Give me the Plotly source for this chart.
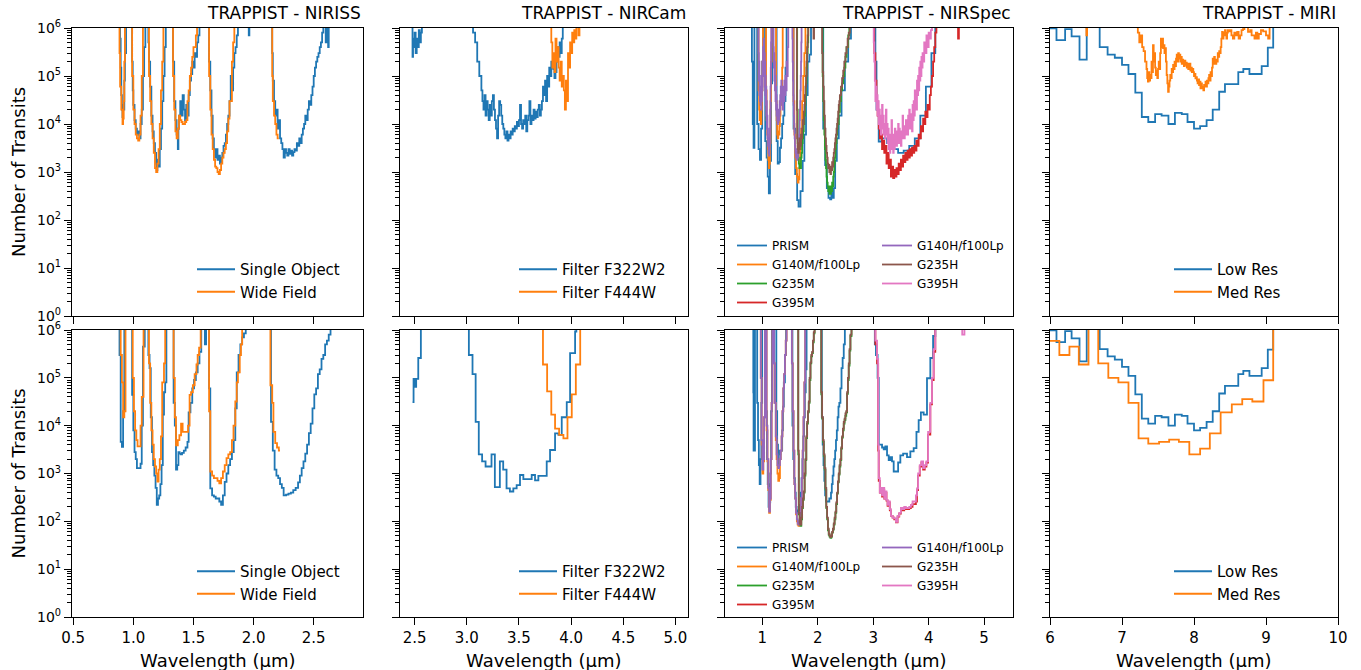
import plotly.graph_objects as go

# ----------------------------------------------------------------- DATA
# NIRISS, top row (native resolution)
niriss_top_so_x = [0.86, 0.89, 0.895, 0.90, 0.905, 0.91, 0.915, 0.92, 0.925, 0.93,
                   0.94, 0.985, 0.99, 0.995, 1.00, 1.01, 1.02, 1.03, 1.04, 1.05,
                   1.06, 1.07, 1.08, 1.09, 1.10, 1.12, 1.125, 1.13, 1.14, 1.15,
                   1.16, 1.17, 1.18, 1.19, 1.195, 1.20, 1.21, 1.22, 1.23, 1.24,
                   1.25, 1.26, 1.27, 1.325, 1.33, 1.34, 1.35, 1.36, 1.37, 1.375,
                   1.38, 1.39, 1.40, 1.41, 1.42, 1.43, 1.44, 1.45, 1.46, 1.47,
                   1.48, 1.49, 1.50, 1.51, 1.52, 1.53, 1.54, 1.55, 1.625, 1.63,
                   1.64, 1.65, 1.66, 1.67, 1.68, 1.69, 1.70, 1.71, 1.72, 1.73,
                   1.74, 1.75, 1.76, 1.77, 1.78, 1.79, 1.80, 1.81, 1.82, 1.83,
                   1.84, 1.85, 1.86, 1.87, 1.95, 1.96, 1.965, 2.15, 2.155, 2.16,
                   2.17, 2.18, 2.19, 2.20, 2.21, 2.22, 2.23, 2.24, 2.25, 2.26,
                   2.27, 2.28, 2.29, 2.30, 2.31, 2.32, 2.33, 2.34, 2.35, 2.36,
                   2.37, 2.38, 2.39, 2.40, 2.41, 2.42, 2.43, 2.44, 2.45, 2.46,
                   2.47, 2.48, 2.49, 2.50, 2.51, 2.52, 2.53, 2.54, 2.55, 2.56,
                   2.57, 2.58, 2.60, 2.605, 2.62, 2.625]
niriss_top_so_y = [3e6, 6e5, 1.5e5, 4e4, 2e4, 1.4e4, 2.5e4, 2e4, 8e4, 3e5,
                   3e6, 3e6, 2e5, 5e4, 2.5e4, 1.2e4, 8e3, 6e3, 7e3, 5e3,
                   1e4, 2e4, 1e5, 4e5, 3e6, 3e6, 5e5, 2e5, 6e4, 1.5e4,
                   7e3, 4e3, 2.5e3, 1.5e3, 1.1e3, 1.8e3, 1.3e3, 3e3, 8e3, 3e4,
                   1e5, 4e5, 3e6, 3e6, 2e5, 3e4, 1.2e4, 6e3, 3e3, 8e3,
                   1.5e4, 3e4, 1.5e4, 4e4, 2e4, 1.2e4, 2.5e4, 1.5e4, 4e4, 8e4,
                   1.1e5, 2e5, 1.5e5, 3e5, 2.5e5, 5e5, 7e5, 3e6, 3e6, 2e5,
                   5e4, 1.5e4, 5e3, 3e3, 2e3, 3e3, 1.8e3, 2.2e3, 1.5e3, 2e3,
                   2.5e3, 3.5e3, 4e3, 6e3, 1e4, 1.5e4, 3e4, 1e5, 5e4, 1.5e5,
                   3e5, 4e5, 7e5, 3e6, 3e6, 7e5, 3e6, 3e6, 3e5, 8e4,
                   3e4, 1.5e4, 2e4, 8e3, 1.2e4, 5e3, 4e3, 3e3, 2e3, 3e3,
                   2.5e3, 2.2e3, 3e3, 2.4e3, 2.8e3, 2.2e3, 2.6e3, 3e3, 2.8e3, 4e3,
                   3.5e3, 5e3, 4e3, 6e3, 8e3, 1e4, 1.5e4, 1.2e4, 2e4, 3e4,
                   2.5e4, 4e4, 6e4, 1e5, 1.5e5, 2e5, 2.5e5, 3e5, 4e5, 5e5,
                   8e5, 3e6, 5e5, 3e6, 4e5, 3e6]
niriss_top_wf_x = [0.88, 0.885, 0.89, 0.90, 0.91, 0.915, 0.92, 0.925, 0.93, 0.985,
                   0.99, 1.00, 1.01, 1.02, 1.03, 1.04, 1.05, 1.06, 1.07, 1.08,
                   1.12, 1.13, 1.14, 1.15, 1.16, 1.17, 1.18, 1.19, 1.20, 1.21,
                   1.22, 1.23, 1.24, 1.25, 1.32, 1.33, 1.34, 1.35, 1.36, 1.37,
                   1.38, 1.39, 1.40, 1.41, 1.42, 1.43, 1.44, 1.45, 1.46, 1.47,
                   1.48, 1.49, 1.50, 1.52, 1.53, 1.62, 1.63, 1.64, 1.65, 1.66,
                   1.67, 1.68, 1.69, 1.70, 1.71, 1.72, 1.73, 1.74, 1.75, 1.76,
                   1.77, 1.78, 1.79, 1.80, 1.81, 1.82, 1.83, 1.84, 2.15, 2.155,
                   2.16, 2.17, 2.18, 2.19, 2.20, 2.21]
niriss_top_wf_y = [3e6, 3e5, 6e4, 2e4, 1e4, 1.3e4, 3e4, 2e5, 3e6, 3e6,
                   1e5, 2e4, 1e4, 6e3, 5e3, 4.5e3, 6e3, 1.5e4, 1e5, 3e6,
                   3e6, 1e5, 3e4, 1e4, 5e3, 2.5e3, 1.2e3, 1e3, 1.5e3, 3e3,
                   1e4, 5e4, 2e5, 3e6, 3e6, 1e5, 2e4, 7e3, 5e3, 8e3,
                   1.5e4, 1.2e4, 1.1e4, 1e4, 1e4, 1.1e4, 1.2e4, 3e4, 5e4, 1e5,
                   1.5e5, 2.5e5, 4e5, 7e5, 3e6, 3e6, 1e5, 2e4, 6e3, 3e3,
                   1.8e3, 1.3e3, 1.2e3, 1e3, 9e2, 1.1e3, 1.5e3, 2e3, 2.5e3, 3e3,
                   4e3, 7e3, 1.3e4, 3e4, 3e4, 2e5, 5e5, 3e6, 3e6, 1e5,
                   3e4, 1.5e4, 1e4, 6e3, 5e3, 5e3]

# NIRISS, bottom row (binned)
niriss_bot_so_x = [0.875, 0.885, 0.895, 0.905, 0.915, 0.925,
                   0.985, 0.99, 1.00, 1.01, 1.02, 1.03, 1.045, 1.06, 1.07, 1.08, 1.095,
                   1.115, 1.125, 1.135, 1.145, 1.155, 1.165, 1.175, 1.185, 1.195, 1.205,
                   1.215, 1.225, 1.235, 1.245, 1.255, 1.265, 1.275,
                   1.325, 1.335, 1.345, 1.355, 1.365, 1.375, 1.385, 1.395, 1.405, 1.42,
                   1.435, 1.45, 1.46, 1.475, 1.49, 1.505, 1.52, 1.535, 1.55, 1.565,
                   1.595, 1.605,
                   1.62, 1.63, 1.64, 1.655, 1.67, 1.685, 1.70, 1.715, 1.73, 1.745,
                   1.76, 1.775, 1.79, 1.805, 1.82, 1.835, 1.848, 1.86, 1.875, 1.89,
                   1.905, 1.92, 1.935,
                   2.13, 2.145, 2.16, 2.175, 2.19, 2.205, 2.22, 2.235, 2.25, 2.27,
                   2.29, 2.31, 2.33, 2.35, 2.37, 2.385, 2.40, 2.415, 2.43, 2.445,
                   2.46, 2.475, 2.49, 2.505, 2.52, 2.535, 2.55, 2.565, 2.58, 2.595,
                   2.61, 2.625, 2.64]
niriss_bot_so_y = [3e6, 3e5, 4.6e3, 3.6e3, 2e4, 3e6,
                   3e6, 4.4e4, 8e3, 2.8e3, 2e3, 1.3e3, 1.3e3, 1.6e3, 1e4, 4.5e5, 3e6,
                   3e6, 3e5, 1.6e5, 1.5e4, 2.8e3, 1.5e3, 9e2, 5e2, 2.2e2, 3e2,
                   3.5e2, 6e2, 1.5e3, 1.7e4, 5e4, 8e4, 3e6,
                   3e6, 3e4, 1e4, 1.2e3, 1.5e3, 2.8e3, 2.6e3, 2.5e3, 2.7e3, 3e3,
                   3.5e3, 4.6e3, 1.9e4, 3e4, 6e4, 9e4, 1.3e5, 2e5, 3.5e5, 3e6,
                   5e5, 3e6,
                   3e6, 6e4, 4.9e2, 3.5e2, 3.3e2, 3e2, 3e2, 2.6e2, 2.2e2, 3.5e2,
                   6.7e2, 1e3, 1.5e3, 2e3, 2.8e3, 5e3, 2.3e4, 1.3e5, 3e5, 5e5,
                   7e5, 8.5e5, 3e6,
                   3e6, 1.2e4, 3e3, 1.2e3, 9e2, 8e2, 6e2, 5e2, 3.5e2, 3.6e2,
                   3.8e2, 4e2, 4.5e2, 5e2, 6.5e2, 9e2, 1.3e3, 1.8e3, 2.6e3, 4e3,
                   7e3, 1.1e4, 2.3e4, 4.5e4, 6e4, 1.2e5, 1.5e5, 2.5e5, 3e5, 5e5,
                   6e5, 8e5, 3e6]
niriss_bot_wf_x = [0.88, 0.895, 0.905, 0.915, 0.925, 0.935,
                   0.985, 0.995, 1.005, 1.015, 1.025, 1.035, 1.05, 1.06, 1.07, 1.085,
                   1.12, 1.13, 1.14, 1.15, 1.16, 1.17, 1.18, 1.19, 1.20, 1.21,
                   1.22, 1.23, 1.24, 1.255, 1.265,
                   1.325, 1.335, 1.345, 1.355, 1.37, 1.383, 1.397, 1.41, 1.425, 1.44,
                   1.455, 1.468, 1.48, 1.495, 1.51, 1.525, 1.535, 1.547, 1.56,
                   1.62, 1.63, 1.64, 1.655, 1.67, 1.685, 1.70, 1.715, 1.73, 1.745,
                   1.76, 1.775, 1.79, 1.805, 1.82, 1.833, 1.848, 1.86, 1.87, 1.885,
                   1.895, 1.905,
                   2.13, 2.14, 2.155, 2.165, 2.18, 2.195, 2.21, 2.22]
niriss_bot_wf_y = [3e6, 3e5, 8e4, 1.5e4, 2e4, 3e6,
                   3e6, 1e5, 2e4, 8e3, 5e3, 3.7e3, 3.7e3, 1e4, 4e4, 3e6,
                   3e6, 2e5, 3e4, 8e3, 4e3, 2e3, 1.4e3, 1e3, 6.8e2, 1.2e3,
                   2e3, 6e3, 8e4, 2e5, 3e6,
                   3e6, 1e5, 1.5e4, 3.9e3, 5e3, 6.3e3, 1.1e4, 7.4e3, 7.4e3, 7.4e3,
                   1e4, 4.4e4, 5e4, 7e4, 1.2e5, 1.9e5, 3e5, 4.3e5, 3e6,
                   3e6, 2e4, 1.1e3, 9e2, 8e2, 8e2, 7e2, 6.2e2, 8e2, 1.1e3,
                   1.5e3, 2.1e3, 2.5e3, 2.8e3, 5e3, 1e4, 3.2e4, 8e4, 1.3e5, 3e5,
                   5e5, 3e6,
                   3e6, 7e4, 3e4, 7.4e3, 4.3e3, 3.5e3, 3e3, 3e3]

# NIRCam
nircam_top_f322_x = [2.47, 2.48, 2.485, 2.49, 2.50, 2.51, 2.52, 2.53, 2.54, 2.55,
                     2.56, 2.57, 3.05, 3.06, 3.08, 3.10, 3.12, 3.14, 3.15, 3.16,
                     3.17, 3.18, 3.19, 3.20, 3.21, 3.22, 3.23, 3.24, 3.25, 3.26,
                     3.27, 3.28, 3.29, 3.30, 3.31, 3.32, 3.33, 3.34, 3.35, 3.36,
                     3.37, 3.38, 3.39, 3.40, 3.41, 3.42, 3.43, 3.44, 3.45, 3.46,
                     3.47, 3.48, 3.49, 3.50, 3.51, 3.52, 3.53, 3.54, 3.55, 3.56,
                     3.57, 3.58, 3.59, 3.60, 3.61, 3.62, 3.63, 3.64, 3.65, 3.66,
                     3.67, 3.68, 3.69, 3.70, 3.71, 3.72, 3.73, 3.74, 3.75, 3.76,
                     3.77, 3.78, 3.79, 3.80, 3.81, 3.82, 3.83, 3.84, 3.85, 3.86,
                     3.87, 3.88, 3.89, 3.90, 3.91, 3.92]
nircam_top_f322_y = [3e6, 2.5e5, 6e5, 4e5, 8e5, 3e5, 6e5, 4e5, 9e5, 5e5,
                     8e5, 3e6, 3e6, 8e5, 5e5, 2e5, 1e5, 5e4, 3e4, 2e4,
                     4e4, 1.5e4, 3e4, 2e4, 1.2e4, 2.5e4, 1.5e4, 3e4, 4e4, 2e4,
                     1.2e4, 8e3, 5e3, 1.5e4, 3e4, 2.5e4, 1.5e4, 1e4, 8e3, 6e3,
                     5e3, 7e3, 4.5e3, 6e3, 5e3, 7e3, 6e3, 8e3, 7e3, 9e3,
                     8e3, 1.1e4, 9e3, 1.2e4, 2.5e4, 1e4, 8e3, 1.2e4, 1e4, 1.5e4,
                     7e3, 1.2e4, 1.5e4, 3e4, 1e4, 1.5e4, 1.2e4, 2e4, 1.3e4, 1.8e4,
                     1.4e4, 2e4, 2.5e4, 1.5e4, 2e4, 3e4, 6e4, 4e4, 8e4, 3e4,
                     1e5, 6e4, 1.5e5, 1e5, 2e5, 1.5e5, 1.4e5, 9e4, 1.2e5, 2e5,
                     4e5, 2.5e5, 5e5, 3e5, 6e5, 3e6]
nircam_top_f444_x = [3.80, 3.81, 3.82, 3.83, 3.84, 3.85, 3.86, 3.87, 3.88, 3.89,
                     3.90, 3.91, 3.92, 3.93, 3.94, 3.95, 3.96, 3.97, 3.98, 3.99,
                     4.00, 4.01, 4.02, 4.03, 4.04, 4.05, 4.07, 4.08]
nircam_top_f444_y = [3e6, 5e5, 1.5e5, 3e5, 1.2e5, 6e5, 2e5, 4e5, 1.5e5, 8e4,
                     2e5, 6e4, 1e5, 5e4, 2e4, 8e4, 3e4, 3e5, 1.5e5, 5e5,
                     3e5, 8e5, 5e5, 9e5, 6e5, 3e6, 7e5, 3e6]
nircam_bot_f322_x = [2.48, 2.49, 2.505, 2.515, 2.535, 2.56, 3.02, 3.055, 3.085, 3.115,
                     3.147, 3.18, 3.237, 3.269, 3.317, 3.349, 3.381, 3.413, 3.446, 3.478,
                     3.51, 3.542, 3.574, 3.622, 3.654, 3.686, 3.718, 3.766, 3.798, 3.846,
                     3.878, 3.91, 3.958, 3.99, 4.038, 4.05]
nircam_bot_f322_y = [3.1e4, 9.5e4, 6.5e4, 9.5e4, 2.6e5, 3e6, 3e5, 1.2e5, 1.2e4, 2.5e3,
                     1.8e3, 1.4e3, 2.5e3, 5.2e2, 1.8e3, 1.2e3, 4.9e2, 4.2e2, 4.9e2, 5.7e2,
                     9.3e2, 7.6e2, 7.6e2, 9.3e2, 7.2e2, 8.9e2, 8.9e2, 1.8e3, 3.1e3, 6.9e3,
                     6.4e3, 1.5e4, 3.1e4, 3.3e5, 9.3e5, 3e6]
nircam_bot_f444_x = [3.72, 3.73, 3.77, 3.81, 3.846, 3.885, 3.926, 3.965, 4.006, 4.045, 4.087]
nircam_bot_f444_y = [3e6, 1.9e5, 5.2e4, 1.7e4, 8.7e3, 6.4e3, 5.4e3, 1.5e4, 4.5e4, 1.9e5, 3e6]

# NIRSpec, top row
nirspec_top_prism_x = [0.80, 0.815, 0.83, 0.845, 0.86, 0.90, 0.91, 0.935, 0.96, 0.98,
                       1.00, 1.02, 1.04, 1.055, 1.08, 1.10, 1.12, 1.14, 1.16, 1.18,
                       1.24, 1.26, 1.28, 1.30, 1.32, 1.34, 1.36, 1.38, 1.40, 1.42,
                       1.44, 1.53, 1.565, 1.595, 1.63, 1.655, 1.69, 1.73, 1.76, 1.79,
                       1.82, 1.85, 1.88, 2.07, 2.10, 2.135, 2.165, 2.195, 2.225, 2.245,
                       2.265, 2.29, 2.315, 2.345, 2.38, 2.43, 2.49, 2.55, 2.60, 3.00,
                       3.04, 3.06, 3.10, 3.15, 3.25, 3.35, 3.45, 3.55, 3.65, 3.75,
                       3.85, 3.95, 4.05, 4.12]
nirspec_top_prism_y = [3e6, 2e5, 1e4, 3.2e3, 3e6, 3e6, 1e4, 3e3, 1.8e3, 8e3,
                       2e5, 3e6, 3e6, 4.4e3, 2e3, 8e2, 3.6e2, 1.7e3, 7e4, 3e6,
                       3e6, 4.4e3, 1.5e3, 1.6e3, 3.2e3, 5e3, 1e4, 1.5e4, 3e4, 1.5e5,
                       3e6, 3e6, 8e3, 9e2, 2.6e2, 1.9e2, 4e2, 1.7e3, 6e3, 4e4,
                       2e5, 2.8e5, 3e6, 3e6, 8e3, 1.4e3, 4.6e2, 2.9e2, 2.7e2, 4e2,
                       2.9e2, 4.6e2, 1.7e3, 5e3, 1.5e4, 5e4, 2e5, 6e5, 3e6, 3e6,
                       2e5, 2e4, 4.3e3, 5e3, 4e3, 3e3, 2.5e3, 2.8e3, 3.5e3, 5e3,
                       1.5e4, 6e4, 3e5, 3e6]
nirspec_top_g140m_x = [0.93, 0.935, 0.945, 0.955, 0.965, 0.975, 0.985, 0.995, 1.005, 1.015,
                       1.06, 1.07, 1.08, 1.09, 1.10, 1.11, 1.12, 1.13, 1.14, 1.15,
                       1.16, 1.17, 1.24, 1.25, 1.26, 1.27, 1.28, 1.29, 1.30, 1.31,
                       1.32, 1.33, 1.34, 1.35, 1.36, 1.37, 1.55, 1.565, 1.58, 1.595,
                       1.61, 1.625, 1.64, 1.655, 1.67, 1.685, 1.70, 1.72, 1.74, 1.76,
                       1.78]
nirspec_top_g140m_y = [3e6, 5e4, 2e4, 1.2e4, 1.5e4, 1e4, 2e4, 5e4, 2e5, 3e6,
                       3e6, 5e4, 1.2e4, 6e3, 3e3, 1.8e3, 1.2e3, 1.5e3, 4e3, 3e4,
                       2e5, 3e6, 3e6, 3e4, 1.2e4, 6e3, 5e3, 7e3, 6e3, 9e3,
                       1.5e4, 2.5e4, 4e4, 6e4, 1.5e5, 3e6, 3e6, 3e4, 6e3, 2e3,
                       1.2e3, 8e2, 6e2, 7e2, 1.2e3, 3e3, 8e3, 3e4, 1e5, 3e5,
                       3e6]
nirspec_top_g235m_x = [1.62, 1.63, 1.64, 1.65, 1.66, 1.67, 1.68, 1.69, 1.70, 1.71,
                       1.72, 1.73, 1.74, 1.75, 1.76, 1.77, 1.78, 1.79, 1.80, 1.81,
                       1.82, 1.83, 2.08, 2.09, 2.10, 2.11, 2.12, 2.13, 2.14, 2.15,
                       2.16, 2.17, 2.18, 2.19, 2.20, 2.21, 2.22, 2.23, 2.24, 2.25,
                       2.26, 2.27, 2.28, 2.29, 2.30, 2.31, 2.32, 2.33, 2.34, 2.35,
                       2.36, 2.38, 2.40, 2.42, 2.44, 2.46, 2.48, 2.50, 2.52, 2.55,
                       2.57]
nirspec_top_g235m_y = [3e6, 2e4, 4e3, 2e3, 1.5e3, 1.2e3, 1.5e3, 1.2e3, 2e3, 2.5e3,
                       4e3, 5e3, 7e3, 1e4, 1.5e4, 2.5e4, 4e4, 7e4, 1.5e5, 3e5,
                       5e5, 3e6, 3e6, 1e5, 3e4, 1.2e4, 6e3, 3e3, 1.8e3, 1.2e3,
                       8e2, 6e2, 5e2, 4e2, 5e2, 3.5e2, 4.5e2, 3.5e2, 5e2, 4e2,
                       6e2, 5e2, 8e2, 1e3, 1.5e3, 2e3, 3e3, 4e3, 6e3, 8e3,
                       1e4, 1.8e4, 3e4, 5e4, 7e4, 1e5, 1.5e5, 2.5e5, 4e5, 7e5,
                       3e6]
nirspec_top_g395m_x = [3.00, 3.02, 3.04, 3.06, 3.08, 3.10, 3.12, 3.14, 3.16, 3.18,
                       3.20, 3.22, 3.24, 3.26, 3.28, 3.30, 3.32, 3.34, 3.36, 3.38,
                       3.40, 3.42, 3.44, 3.46, 3.48, 3.50, 3.52, 3.54, 3.56, 3.58,
                       3.60, 3.62, 3.64, 3.66, 3.68, 3.70, 3.72, 3.74, 3.76, 3.78,
                       3.80, 3.82, 3.84, 3.86, 3.88, 3.90, 3.92, 3.94, 3.96, 3.98,
                       4.00, 4.02, 4.04, 4.06, 4.08, 4.10, 4.12, 4.14, 4.52, 4.53,
                       4.545]
nirspec_top_g395m_y = [3e6, 3e5, 8e4, 3e4, 1.5e4, 8e3, 5e3, 6e3, 3e3, 4.5e3,
                       2.5e3, 3.5e3, 1.5e3, 2.5e3, 1.2e3, 1.8e3, 8e2, 1.3e3, 7.5e2, 1.1e3,
                       8e2, 1.2e3, 9e2, 1.5e3, 1.1e3, 1.8e3, 1.3e3, 2.2e3, 1.6e3, 2.5e3,
                       1.8e3, 2.8e3, 2e3, 3e3, 2.2e3, 3.2e3, 2.5e3, 3.5e3, 2.8e3, 4.5e3,
                       3.5e3, 6e3, 5e3, 9e3, 7e3, 1.3e4, 1e4, 1.8e4, 1.4e4, 2.5e4,
                       2e4, 4e4, 6e4, 1e5, 2e5, 4e5, 8e5, 3e6, 3e6, 6e5,
                       3e6]
nirspec_top_g140h_x = [0.93, 0.935, 0.94, 0.945, 0.95, 0.955, 0.96, 0.965, 0.97, 0.975,
                       0.98, 0.985, 0.99, 0.995, 1.00, 1.005, 1.01, 1.015, 1.02, 1.025,
                       1.03, 1.035, 1.04, 1.045, 1.05, 1.055, 1.06, 1.065, 1.07, 1.075,
                       1.08, 1.085, 1.09, 1.095, 1.10, 1.105, 1.11, 1.115, 1.12, 1.125,
                       1.13, 1.135, 1.14, 1.145, 1.15, 1.155, 1.16, 1.165, 1.20, 1.205,
                       1.21, 1.215, 1.22, 1.225, 1.23, 1.235, 1.24, 1.245, 1.25, 1.255,
                       1.26, 1.265, 1.27, 1.275, 1.28, 1.285, 1.29, 1.295, 1.30, 1.305,
                       1.31, 1.315, 1.32, 1.325, 1.33, 1.335, 1.34, 1.345, 1.35, 1.36,
                       1.37, 1.38, 1.39, 1.40, 1.41, 1.42, 1.43, 1.44, 1.45, 1.46,
                       1.47, 1.54, 1.545, 1.55, 1.555, 1.56, 1.565, 1.57, 1.575, 1.58,
                       1.585, 1.59, 1.595, 1.60, 1.605, 1.61, 1.615, 1.62, 1.625, 1.63,
                       1.635, 1.64, 1.645, 1.65, 1.655, 1.66, 1.665, 1.67, 1.675, 1.68,
                       1.685, 1.69, 1.695, 1.70, 1.705, 1.71]
nirspec_top_g140h_y = [3e6, 3e5, 8e4, 2e5, 4e4, 1e5, 3e4, 6e4, 2.5e4, 5e4,
                       2e4, 6e4, 3e4, 1e5, 5e4, 2e5, 1e5, 4e5, 2e5, 6e5,
                       3e5, 1e5, 3e5, 6e4, 2e5, 4e4, 1e5, 2.5e4, 6e4, 1.5e4,
                       3e4, 8e3, 1.5e4, 5e3, 8e3, 3.5e3, 5e3, 2.5e3, 4e3, 2.2e3,
                       3e3, 4e3, 8e3, 2e4, 6e4, 1.5e5, 5e5, 3e6, 3e6, 4e5,
                       1.5e5, 3e5, 8e4, 2e5, 5e4, 1e5, 3e4, 6e4, 2e4, 4e4,
                       1.5e4, 2.5e4, 1.2e4, 2e4, 1e4, 1.6e4, 1.1e4, 1.4e4, 1.2e4, 2e4,
                       1.5e4, 3e4, 2e4, 4e4, 2.5e4, 6e4, 3e4, 8e4, 3e4, 6e4,
                       2e4, 5e4, 3e4, 8e4, 4e4, 1e5, 5e4, 2e5, 1e5, 4e5,
                       3e6, 3e6, 6e5, 2e5, 8e4, 4e4, 2.5e4, 1.5e4, 1e4, 7e3,
                       5e3, 3.5e3, 3e3, 2.5e3, 3e3, 2e3, 2.6e3, 2e3, 2.4e3, 1.8e3,
                       2.2e3, 2e3, 2.8e3, 2.5e3, 4e3, 3e3, 6e3, 8e3, 1.2e4, 2e4,
                       3e4, 5e4, 1e5, 2e5, 5e5, 3e6]
nirspec_top_g235h_x = [1.62, 1.625, 1.63, 1.64, 1.65, 1.66, 1.67, 1.68, 1.69, 1.70,
                       1.71, 1.72, 1.73, 1.74, 1.75, 1.76, 1.77, 1.78, 1.79, 1.80,
                       1.81, 1.82, 1.83, 1.92, 1.925, 1.935, 2.07, 2.08, 2.09, 2.10,
                       2.11, 2.12, 2.13, 2.14, 2.15, 2.16, 2.17, 2.18, 2.19, 2.20,
                       2.21, 2.22, 2.23, 2.24, 2.25, 2.26, 2.27, 2.28, 2.29, 2.30,
                       2.31, 2.32, 2.33, 2.34, 2.35, 2.36, 2.37, 2.38, 2.39, 2.40,
                       2.42, 2.44, 2.46, 2.48, 2.50, 2.52, 2.54, 2.56, 2.58]
nirspec_top_g235h_y = [3e6, 2e4, 5e3, 3e3, 2.5e3, 4e3, 3e3, 5e3, 3.5e3, 6e3,
                       5e3, 8e3, 1.2e4, 1e4, 1.8e4, 2.5e4, 4e4, 6e4, 1e5, 2e5,
                       4e5, 7e5, 3e6, 3e6, 6e5, 3e6, 3e6, 3e5, 1.2e5, 6e4,
                       3e4, 1.5e4, 8e3, 5e3, 3.5e3, 2.5e3, 2e3, 1.5e3, 1.2e3, 1.4e3,
                       1e3, 1.2e3, 9e2, 1.3e3, 1.1e3, 1.6e3, 1.3e3, 2e3, 2.5e3, 3e3,
                       4e3, 5e3, 6e3, 8e3, 1e4, 1.3e4, 1.8e4, 2.5e4, 3e4, 4e4,
                       6e4, 9e4, 1.3e5, 2e5, 3e5, 4e5, 6e5, 8e5, 3e6]
nirspec_top_g395h_x = [3.00, 3.01, 3.02, 3.03, 3.04, 3.05, 3.06, 3.07, 3.08, 3.09,
                       3.10, 3.11, 3.12, 3.13, 3.14, 3.15, 3.16, 3.17, 3.18, 3.19,
                       3.20, 3.21, 3.22, 3.23, 3.24, 3.25, 3.26, 3.27, 3.28, 3.29,
                       3.30, 3.31, 3.32, 3.33, 3.34, 3.35, 3.36, 3.37, 3.38, 3.39,
                       3.40, 3.41, 3.42, 3.43, 3.44, 3.45, 3.46, 3.47, 3.48, 3.49,
                       3.50, 3.51, 3.52, 3.53, 3.54, 3.55, 3.56, 3.57, 3.58, 3.59,
                       3.60, 3.61, 3.62, 3.63, 3.64, 3.65, 3.66, 3.67, 3.68, 3.69,
                       3.70, 3.71, 3.72, 3.73, 3.74, 3.75, 3.76, 3.77, 3.78, 3.79,
                       3.80, 3.81, 3.82, 3.83, 3.84, 3.85, 3.86, 3.87, 3.88, 3.89,
                       3.90, 3.92, 3.94, 3.96, 3.98, 4.00, 4.02, 4.04, 4.06]
nirspec_top_g395h_y = [3e6, 5e5, 2e5, 8e4, 3e4, 6e4, 2e4, 4e4, 1.5e4, 3e4,
                       1e4, 2e4, 8e3, 1.5e4, 6e3, 1.2e4, 2.5e4, 8e3, 1.5e4, 6e3,
                       1e4, 5e3, 8e3, 2e4, 6e3, 1e4, 4e3, 8e3, 3e3, 6e3,
                       2.5e3, 5e3, 3e3, 1.2e4, 4e3, 6e3, 2.5e3, 5e3, 3e3, 8e3,
                       4e3, 6e3, 3.5e3, 7e3, 4e3, 1e4, 5e3, 8e3, 4e3, 6e3,
                       3.5e3, 7e3, 5e3, 1.5e4, 6e3, 9e3, 5e3, 8e3, 6e3, 1.2e4,
                       7e3, 1e4, 6e3, 1.5e4, 8e3, 2e4, 1e4, 1.6e4, 8e3, 1.2e4,
                       7e3, 2.5e4, 1.2e4, 3e4, 1.5e4, 5e4, 2.5e4, 4e4, 2e4, 8e4,
                       4e4, 1e5, 5e4, 1.5e5, 8e4, 2e5, 1e5, 2.5e5, 1.5e5, 3e5,
                       2e5, 5e5, 3e5, 7e5, 4e5, 8e5, 6e5, 9e5, 3e6]

# NIRSpec, bottom row
nirspec_bot_prism_x = [0.80, 0.835, 0.84, 0.845, 0.865, 0.87, 0.90, 0.91, 0.925, 0.94,
                       0.955, 0.97, 0.985, 1.00, 1.06, 1.07, 1.085, 1.10, 1.115, 1.13,
                       1.145, 1.16, 1.175, 1.24, 1.255, 1.27, 1.285, 1.30, 1.315, 1.33,
                       1.345, 1.36, 1.375, 1.39, 1.41, 1.43, 1.53, 1.545, 1.56, 1.575,
                       1.59, 1.605, 1.62, 1.635, 1.65, 1.665, 1.68, 1.695, 1.71, 1.725,
                       1.74, 1.755, 1.77, 1.785, 1.80, 2.06, 2.075, 2.09, 2.105, 2.12,
                       2.135, 2.15, 2.165, 2.18, 2.195, 2.21, 2.225, 2.24, 2.255, 2.27,
                       2.285, 2.30, 2.315, 2.33, 2.345, 2.36, 2.375, 2.39, 2.41, 2.43,
                       2.45, 2.47, 2.49, 3.00, 3.03, 3.05, 3.08, 3.10, 3.13, 3.16,
                       3.19, 3.22, 3.25, 3.28, 3.31, 3.34, 3.37, 3.41, 3.45, 3.49,
                       3.54, 3.61, 3.67, 3.73, 3.78, 3.82, 3.86, 3.91, 3.97, 4.03,
                       4.08, 4.12]
nirspec_bot_prism_y = [3e6, 3e6, 5e4, 3e3, 3e3, 3e6, 3e6, 3e4, 5e3, 1.5e3,
                       6e2, 2e3, 3e4, 3e6, 3e6, 2e4, 2e3, 6e2, 2e2, 2.5e2,
                       1e3, 2e4, 3e6, 3e6, 2e4, 4e3, 1.5e3, 3e3, 2.5e3, 3e3,
                       3e3, 8e3, 2.5e4, 8e4, 3e5, 3e6, 3e6, 1e4, 2e3, 8e2,
                       4e2, 2e2, 1.6e2, 1.5e2, 1.7e2, 1.9e2, 2.2e2, 4e2, 8e2, 2e3,
                       6e3, 1.5e4, 5e4, 1.5e5, 3e6, 3e6, 1.5e4, 4e3, 1.5e3, 7e2,
                       3.5e2, 2.6e2, 2.6e2, 2.6e2, 2.6e2, 3e2, 3e2, 4e2, 6e2, 9e2,
                       1.4e3, 2e3, 3e3, 5e3, 8e3, 1.5e4, 2.5e4, 3e4, 6e4, 1.6e5,
                       2.6e5, 5e5, 3e6, 3e6, 5e5, 3e5, 1e5, 4e3, 4e3, 3.5e3,
                       3.2e3, 3.7e3, 2.4e3, 1.9e3, 2.2e3, 1.8e3, 1.1e3, 1.1e3, 1.7e3, 2.4e3,
                       2.6e3, 2.2e3, 2.9e3, 3.4e3, 7.4e3, 1.3e4, 1.9e4, 1.7e4, 9.8e4, 2.6e5,
                       7.5e5, 3e6]
nirspec_bot_g140m_x = [0.97, 0.975, 0.99, 1.005, 1.02, 1.035, 1.05, 1.07, 1.08, 1.095,
                       1.11, 1.125, 1.14, 1.155, 1.17, 1.185, 1.20, 1.215, 1.23, 1.245,
                       1.26, 1.275, 1.29, 1.305, 1.32, 1.335, 1.35, 1.365, 1.38, 1.395,
                       1.41, 1.425, 1.44, 1.52, 1.535, 1.55, 1.565, 1.58, 1.595, 1.61,
                       1.625, 1.64, 1.655, 1.67, 1.685, 1.70, 1.715, 1.73, 1.745, 1.76,
                       1.775]
nirspec_bot_g140m_y = [3e6, 1e5, 4e3, 1e3, 1.8e3, 1.5e4, 3e6, 3e6, 8e3, 1.8e3,
                       4.5e2, 1.5e2, 2.8e2, 2e3, 3e4, 3e6, 3e6, 2e5, 3e4, 5e3,
                       2e3, 1e3, 7e2, 8e2, 2e3, 3e3, 6e3, 2e4, 6e4, 1.2e5,
                       3e5, 6e5, 3e6, 3e6, 2e5, 2e4, 3e3, 6e2, 3e2, 1.4e2,
                       1e2, 8.5e1, 8e1, 1e2, 1.5e2, 3e2, 8e2, 3e3, 1.5e4, 8e4,
                       3e6]
nirspec_bot_g235m_x = [1.64, 1.65, 1.66, 1.675, 1.69, 1.705, 1.72, 1.735, 1.75, 1.765,
                       1.78, 1.795, 1.81, 1.825, 1.84, 1.855, 1.87, 1.885, 1.90, 1.915,
                       1.93, 1.945, 2.05, 2.065, 2.08, 2.095, 2.11, 2.125, 2.14, 2.155,
                       2.17, 2.185, 2.20, 2.215, 2.23, 2.245, 2.26, 2.275, 2.29, 2.305,
                       2.32, 2.335, 2.35, 2.365, 2.38, 2.395, 2.41, 2.425, 2.44, 2.455,
                       2.47, 2.485, 2.50, 2.515, 2.53, 2.545, 2.56, 2.575, 2.59, 2.61]
nirspec_bot_g235m_y = [3e6, 2.5e3, 1.4e2, 8.5e1, 8e1, 1.1e2, 1.9e2, 2.8e2, 4e2, 9e2,
                       1.9e3, 5.5e3, 1.1e4, 1.9e4, 3e4, 9e4, 2e5, 2.8e5, 3.3e5, 5.5e5,
                       8.5e5, 3e6, 3e6, 4.5e4, 1.4e4, 4.6e3, 2.3e3, 1.2e3, 4.6e2, 1.9e2,
                       1.1e2, 6.5e1, 5.2e1, 4.8e1, 4.5e1, 4.8e1, 5.8e1, 6.7e1, 8.5e1, 1.1e2,
                       1.5e2, 2.3e2, 3.8e2, 6.5e2, 9.5e2, 1.4e3, 1.9e3, 3.3e3, 5.6e3, 8e3,
                       1.1e4, 1.3e4, 1.6e4, 1.9e4, 4.6e4, 9e4, 1.8e5, 3.7e5, 7.5e5, 3e6]
nirspec_bot_g395m_x = [2.97, 3.04, 3.07, 3.09, 3.10, 3.12, 3.14, 3.16, 3.18, 3.20,
                       3.22, 3.24, 3.26, 3.28, 3.30, 3.32, 3.35, 3.38, 3.41, 3.44,
                       3.47, 3.50, 3.53, 3.56, 3.59, 3.62, 3.65, 3.68, 3.71, 3.74,
                       3.77, 3.79, 3.81, 3.84, 3.87, 3.90, 3.93, 3.96, 3.99, 4.03,
                       4.06, 4.09, 4.12]
nirspec_bot_g395m_y = [3e6, 5e5, 2e5, 3e3, 7e2, 4e2, 5e2, 3.3e2, 4.6e2, 3e2,
                       4e2, 2.7e2, 2.1e2, 2.5e2, 1.7e2, 1.3e2, 1.2e2, 1.1e2, 9.5e1, 1.25e2,
                       1.45e2, 1.8e2, 1.7e2, 1.9e2, 1.8e2, 1.8e2, 1.9e2, 2e2, 2.3e2, 2.3e2,
                       2.6e2, 4.5e2, 9e2, 1.4e3, 1.7e3, 1.2e3, 1.4e3, 1.7e3, 6.5e3, 2.8e4,
                       9e4, 3.5e5, 3e6]
nirspec_bot_g140h_x = [0.97, 0.975, 0.99, 1.005, 1.02, 1.035, 1.05, 1.07, 1.08, 1.095,
                       1.11, 1.125, 1.14, 1.155, 1.17, 1.185, 1.20, 1.215, 1.23, 1.245,
                       1.26, 1.275, 1.29, 1.305, 1.32, 1.335, 1.35, 1.365, 1.38, 1.395,
                       1.41, 1.425, 1.44, 1.52, 1.535, 1.55, 1.565, 1.58, 1.595, 1.61,
                       1.625, 1.64, 1.655, 1.67, 1.685, 1.70, 1.715, 1.73, 1.745, 1.76,
                       1.775]
nirspec_bot_g140h_y = [3e6, 1e5, 5e3, 1.2e3, 2e3, 1.5e4, 3e6, 3e6, 1e4, 2e3,
                       5e2, 1.6e2, 3e2, 2e3, 3e4, 3e6, 3e6, 2e5, 3e4, 6e3,
                       2.5e3, 1.5e3, 1.3e3, 1.5e3, 2e3, 3e3, 6e3, 2e4, 6e4, 1.2e5,
                       3e5, 6e5, 3e6, 3e6, 2e5, 2e4, 3e3, 6e2, 3e2, 1.5e2,
                       1.1e2, 9e1, 8.5e1, 1e2, 1.5e2, 3e2, 8e2, 3e3, 1.5e4, 8e4,
                       3e6]
nirspec_bot_g235h_x = [1.64, 1.65, 1.66, 1.675, 1.69, 1.705, 1.72, 1.735, 1.75, 1.765,
                       1.78, 1.795, 1.81, 1.825, 1.84, 1.855, 1.87, 1.885, 1.90, 1.915,
                       1.93, 1.945, 2.05, 2.065, 2.08, 2.095, 2.11, 2.125, 2.14, 2.155,
                       2.17, 2.185, 2.20, 2.215, 2.23, 2.245, 2.26, 2.275, 2.29, 2.305,
                       2.32, 2.335, 2.35, 2.365, 2.38, 2.395, 2.41, 2.425, 2.44, 2.455,
                       2.47, 2.485, 2.50, 2.515, 2.53, 2.545, 2.56, 2.575, 2.59, 2.61]
nirspec_bot_g235h_y = [3e6, 3e3, 1.5e2, 9e1, 8.5e1, 1.2e2, 2e2, 3e2, 4.2e2, 1e3,
                       2e3, 6e3, 1.2e4, 2e4, 3.2e4, 1e5, 2.1e5, 3e5, 3.5e5, 6e5,
                       9e5, 3e6, 3e6, 5e4, 1.5e4, 5e3, 2.5e3, 1.3e3, 5e2, 2e2,
                       1.2e2, 7e1, 5.5e1, 5e1, 4.7e1, 5e1, 6e1, 7e1, 9e1, 1.2e2,
                       1.6e2, 2.5e2, 4e2, 6.8e2, 1e3, 1.5e3, 2e3, 3.5e3, 6e3, 8.7e3,
                       1.2e4, 1.4e4, 1.8e4, 2e4, 5e4, 1e5, 2e5, 4e5, 8e5, 3e6]
nirspec_bot_g395h_x = [2.97, 3.04, 3.07, 3.09, 3.10, 3.12, 3.14, 3.16, 3.18, 3.20,
                       3.22, 3.24, 3.26, 3.28, 3.30, 3.32, 3.35, 3.38, 3.41, 3.44,
                       3.47, 3.50, 3.53, 3.56, 3.59, 3.62, 3.65, 3.68, 3.71, 3.74,
                       3.77, 3.79, 3.81, 3.84, 3.87, 3.90, 3.93, 3.96, 3.99, 4.03,
                       4.06, 4.09, 4.12, 4.60, 4.605, 4.64, 4.645]
nirspec_bot_g395h_y = [3e6, 6e5, 2.5e5, 4e3, 8e2, 4e2, 5e2, 3.5e2, 5e2, 3e2,
                       4.2e2, 2.8e2, 2.2e2, 2.6e2, 1.8e2, 1.3e2, 1.2e2, 1.15e2, 9.8e1, 1.3e2,
                       1.5e2, 1.9e2, 1.8e2, 2e2, 1.9e2, 1.9e2, 2e2, 2.2e2, 2.6e2, 2.6e2,
                       3.5e2, 4.9e2, 1e3, 1.5e3, 1.8e3, 1.3e3, 1.5e3, 1.8e3, 7.4e3, 3e4,
                       1e5, 4e5, 3e6, 3e6, 8e5, 8e5, 3e6]

# MIRI
miri_lrs_x = [6.0, 6.09, 6.21, 6.30, 6.41, 6.51, 6.69, 6.80, 6.90, 7.0,
              7.09, 7.185, 7.275, 7.365, 7.46, 7.55, 7.645, 7.735, 7.83, 7.91,
              8.0, 8.085, 8.175, 8.26, 8.35, 8.43, 8.52, 8.615, 8.685, 8.77,
              8.86, 8.94, 9.025, 9.10]
miri_lrs_y = [9.8e5, 5.6e5, 9.5e5, 6.7e5, 2.2e5, 3e6, 4e5, 2.8e5, 2.4e5, 1.7e5,
              1.1e5, 4.5e4, 1.4e4, 1.1e4, 1.6e4, 1.5e4, 1e4, 1.7e4, 1.6e4, 1.1e4,
              8e3, 9e3, 1.2e4, 2e4, 4.7e4, 6.8e4, 6.8e4, 1.2e5, 1.4e5, 1.1e5,
              1.1e5, 1.6e5, 3.9e5, 3e6]
miri_top_mrs_x = [6.50, 6.505, 6.515, 7.20, 7.22, 7.24, 7.26, 7.28, 7.30, 7.32,
                  7.34, 7.35, 7.36, 7.37, 7.38, 7.39, 7.40, 7.41, 7.42, 7.43,
                  7.44, 7.45, 7.46, 7.47, 7.48, 7.49, 7.50, 7.51, 7.52, 7.53,
                  7.54, 7.55, 7.56, 7.57, 7.58, 7.59, 7.60, 7.61, 7.62, 7.63,
                  7.64, 7.65, 7.66, 7.67, 7.68, 7.69, 7.70, 7.71, 7.72, 7.73,
                  7.74, 7.75, 7.76, 7.77, 7.78, 7.79, 7.80, 7.81, 7.82, 7.83,
                  7.84, 7.85, 7.86, 7.87, 7.88, 7.89, 7.90, 7.91, 7.92, 7.93,
                  7.94, 7.95, 7.96, 7.97, 7.98, 7.99, 8.00, 8.01, 8.02, 8.03,
                  8.04, 8.05, 8.06, 8.07, 8.08, 8.09, 8.10, 8.11, 8.12, 8.13,
                  8.14, 8.15, 8.16, 8.17, 8.18, 8.19, 8.20, 8.21, 8.22, 8.23,
                  8.24, 8.25, 8.26, 8.27, 8.28, 8.29, 8.30, 8.31, 8.32, 8.33,
                  8.34, 8.35, 8.36, 8.37, 8.38, 8.39, 8.40, 8.41, 8.42, 8.43,
                  8.44, 8.45, 8.46, 8.47, 8.48, 8.50, 8.52, 8.54, 8.56, 8.58,
                  8.60, 8.62, 8.64, 8.66, 8.68, 8.70, 8.75, 8.78, 8.80, 8.84,
                  8.86, 8.88, 8.90, 8.93, 8.96, 9.00, 9.03, 9.05]
miri_top_mrs_y = [3e6, 7e5, 3e6, 3e6, 8e5, 5e5, 7e5, 4e5, 3.3e5, 2e5,
                  1.4e5, 9e4, 7.6e4, 1.2e5, 8e4, 1.05e5, 9e4, 2e5, 1.2e5, 4.4e5,
                  2e5, 3e5, 1.5e5, 1.05e5, 1.3e5, 9e4, 1.4e5, 2e5, 1.4e5, 3e5,
                  6e5, 4e5, 6e5, 3.8e5, 4.4e5, 3e5, 3.8e5, 2e5, 1.05e5, 7e4,
                  4.7e4, 6e4, 8e4, 1.05e5, 9e4, 1.4e5, 1.2e5, 1.7e5, 1.4e5, 2e5,
                  1.6e5, 2.3e5, 2.8e5, 2e5, 3e5, 2.3e5, 2.8e5, 2e5, 2.5e5, 1.8e5,
                  2.2e5, 2e5, 1.6e5, 2.1e5, 1.7e5, 1.9e5, 1.5e5, 1.8e5, 1.4e5, 1.7e5,
                  1.8e5, 1.3e5, 1.5e5, 1.2e5, 1.4e5, 1.2e5, 1e5, 1.1e5, 8.9e4, 9.5e4,
                  8e4, 7e4, 8.5e4, 6.5e4, 7.6e4, 5.5e4, 7e4, 6e4, 5.5e4, 5e4,
                  6.5e4, 6e4, 7.6e4, 6e4, 8e4, 7e4, 9e4, 1.05e5, 8e4, 1.2e5,
                  1e5, 1.5e5, 2.3e5, 1.8e5, 2.5e5, 2e5, 1.8e5, 2.2e5, 2e5, 3e5,
                  2.5e5, 3.3e5, 3e5, 4e5, 6e5, 8.3e5, 6e5, 8e5, 7e5, 9e5,
                  7e5, 6e5, 8e5, 9e5, 8.5e5, 9e5, 7e5, 6e5, 8e5, 7e5,
                  8.3e5, 6e5, 7e5, 9e5, 9.5e5, 3e6, 8.3e5, 9e5, 7e5, 6e5,
                  8e5, 6e5, 7.5e5, 9e5, 8.5e5, 7e5, 6e5, 3e6]
miri_bot_mrs_x = [6.0, 6.13, 6.27, 6.40, 6.535, 6.67, 6.81, 6.95, 7.09, 7.23,
                  7.365, 7.515, 7.655, 7.79, 7.935, 8.085, 8.22, 8.37, 8.525, 8.67,
                  8.81, 8.965, 9.10]
miri_bot_mrs_y = [5.9e5, 3e5, 4.5e5, 1.9e5, 3e6, 2e5, 1e5, 8e4, 3e4, 5.4e3,
                  4.2e3, 4.6e3, 5.1e3, 4.6e3, 2.5e3, 3.3e3, 6.9e3, 1.9e4, 2.8e4, 3.6e4,
                  3.2e4, 8.9e4, 3e6]

panel_titles = ["TRAPPIST - NIRISS", "TRAPPIST - NIRCam", "TRAPPIST - NIRSpec", "TRAPPIST - MIRI"]
x_ranges = [[0.49, 2.91], [2.36, 5.12], [0.33, 5.52], [6.0, 10.0]]
x_tickvals = [[0.5, 1.0, 1.5, 2.0, 2.5], [2.5, 3.0, 3.5, 4.0, 4.5, 5.0], [1, 2, 3, 4, 5], [6, 7, 8, 9, 10]]
x_ticktext = [["0.5", "1.0", "1.5", "2.0", "2.5"], ["2.5", "3.0", "3.5", "4.0", "4.5", "5.0"],
              ["1", "2", "3", "4", "5"], ["6", "7", "8", "9", "10"]]
y_tickvals = [1, 10, 100, 1e3, 1e4, 1e5, 1e6]
y_ticktext = ["10<sup>%d</sup>" % k for k in range(7)]
y_minor = [m * 10 ** k for k in range(6) for m in range(2, 10)]

# ----------------------------------------------------------------- STYLE
W, H = 1361, 670
FONT = "DejaVu Sans"
COL = dict(blue="#1f77b4", orange="#ff7f0e", green="#2ca02c", red="#d62728",
           purple="#9467bd", brown="#8c564b", pink="#e377c2")
col_px = [(72, 363), (400, 688), (725, 1013), (1050, 1338)]
row_px = [(28, 316), (330, 617)]


def px_x(p):
    return p / W


def px_y(p):
    return 1 - p / H


fig = go.Figure()


def add(x, y, name, color, r, c, legend):
    assert len(x) == len(y), name
    i = r * 4 + c + 1
    fig.add_trace(go.Scatter(
        x=x, y=y, name=name, mode="lines", line=dict(color=color, width=1.8, shape="hv"),
        xaxis="x" if i == 1 else "x%d" % i, yaxis="y" if i == 1 else "y%d" % i,
        legend=legend, showlegend=True, hoverinfo="skip"))


# row 1
add(niriss_top_so_x, niriss_top_so_y, "Single Object", COL["blue"], 0, 0, "legend")
add(niriss_top_wf_x, niriss_top_wf_y, "Wide Field", COL["orange"], 0, 0, "legend")
add(nircam_top_f322_x, nircam_top_f322_y, "Filter F322W2", COL["blue"], 0, 1, "legend2")
add(nircam_top_f444_x, nircam_top_f444_y, "Filter F444W", COL["orange"], 0, 1, "legend2")
add(nirspec_top_prism_x, nirspec_top_prism_y, "PRISM", COL["blue"], 0, 2, "legend3")
add(nirspec_top_g140m_x, nirspec_top_g140m_y, "G140M/f100Lp", COL["orange"], 0, 2, "legend3")
add(nirspec_top_g235m_x, nirspec_top_g235m_y, "G235M", COL["green"], 0, 2, "legend3")
add(nirspec_top_g395m_x, nirspec_top_g395m_y, "G395M", COL["red"], 0, 2, "legend3")
add(nirspec_top_g140h_x, nirspec_top_g140h_y, "G140H/f100Lp", COL["purple"], 0, 2, "legend4")
add(nirspec_top_g235h_x, nirspec_top_g235h_y, "G235H", COL["brown"], 0, 2, "legend4")
add(nirspec_top_g395h_x, nirspec_top_g395h_y, "G395H", COL["pink"], 0, 2, "legend4")
add(miri_lrs_x, miri_lrs_y, "Low Res", COL["blue"], 0, 3, "legend5")
add(miri_top_mrs_x, miri_top_mrs_y, "Med Res", COL["orange"], 0, 3, "legend5")
# row 2
add(niriss_bot_so_x, niriss_bot_so_y, "Single Object", COL["blue"], 1, 0, "legend6")
add(niriss_bot_wf_x, niriss_bot_wf_y, "Wide Field", COL["orange"], 1, 0, "legend6")
add(nircam_bot_f322_x, nircam_bot_f322_y, "Filter F322W2", COL["blue"], 1, 1, "legend7")
add(nircam_bot_f444_x, nircam_bot_f444_y, "Filter F444W", COL["orange"], 1, 1, "legend7")
add(nirspec_bot_prism_x, nirspec_bot_prism_y, "PRISM", COL["blue"], 1, 2, "legend8")
add(nirspec_bot_g140m_x, nirspec_bot_g140m_y, "G140M/f100Lp", COL["orange"], 1, 2, "legend8")
add(nirspec_bot_g235m_x, nirspec_bot_g235m_y, "G235M", COL["green"], 1, 2, "legend8")
add(nirspec_bot_g395m_x, nirspec_bot_g395m_y, "G395M", COL["red"], 1, 2, "legend8")
add(nirspec_bot_g140h_x, nirspec_bot_g140h_y, "G140H/f100Lp", COL["purple"], 1, 2, "legend9")
add(nirspec_bot_g235h_x, nirspec_bot_g235h_y, "G235H", COL["brown"], 1, 2, "legend9")
add(nirspec_bot_g395h_x, nirspec_bot_g395h_y, "G395H", COL["pink"], 1, 2, "legend9")
add(miri_lrs_x, miri_lrs_y, "Low Res", COL["blue"], 1, 3, "legend10")
add(miri_bot_mrs_x, miri_bot_mrs_y, "Med Res", COL["orange"], 1, 3, "legend10")

layout = dict(width=W, height=H, margin=dict(l=0, r=0, t=0, b=0, pad=0, autoexpand=False),
              autosize=False, plot_bgcolor="white", paper_bgcolor="white",
              font=dict(family=FONT, size=15, color="black"))

for r in range(2):
    for c in range(4):
        i = r * 4 + c + 1
        sfx = "" if i == 1 else str(i)
        x0, x1 = col_px[c]
        y0, y1 = row_px[r]
        layout["xaxis" + sfx] = dict(
            domain=[px_x(x0), px_x(x1)], range=x_ranges[c], anchor="y" + sfx, automargin=False,
            showline=True, linecolor="black", linewidth=1.3, mirror=True,
            showgrid=False, zeroline=False, ticks="outside", ticklen=7, tickwidth=1.2,
            tickcolor="black", tickmode="array", tickvals=x_tickvals[c], ticktext=x_ticktext[c],
            showticklabels=(r == 1), tickfont=dict(family=FONT, size=15, color="black"))
        layout["yaxis" + sfx] = dict(
            domain=[px_y(y1), px_y(y0)], range=[0, 6], type="log", anchor="x" + sfx,
            automargin=False,
            showline=True, linecolor="black", linewidth=1.3, mirror=True,
            showgrid=False, zeroline=False, ticks="outside", ticklen=7, tickwidth=1.2,
            tickcolor="black", tickmode="array", tickvals=y_tickvals, ticktext=y_ticktext,
            showticklabels=(c == 0), tickfont=dict(family=FONT, size=14, color="black"),
            minor=dict(tickmode="array", tickvals=y_minor, ticks="outside", ticklen=4,
                       tickwidth=1, tickcolor="black", showgrid=False))

# legends: (symbol-start px, first-row centre px (row 1), font size, itemwidth)
legend_spec = [(198, 269, 15, 38), (520, 269, 15, 38), (738, 245, 12, 30), (883, 245, 12, 30),
               (1175, 269, 15, 38)]
for r in range(2):
    for k, (sx, cy, fs, iw) in enumerate(legend_spec):
        n = r * 5 + k + 1
        key = "legend" if n == 1 else "legend%d" % n
        cy_r = cy + (302 if r == 1 else 0)
        layout[key] = dict(
            x=px_x(sx - 6), y=px_y(cy_r - (16 if fs == 15 else 14)), xanchor="left", yanchor="top",
            bgcolor="rgba(0,0,0,0)", borderwidth=0, font=dict(family=FONT, size=fs, color="black"),
            itemwidth=iw, tracegroupgap=0, itemclick=False, itemdoubleclick=False)

ann = []
for c in range(4):
    x0, x1 = col_px[c]
    ann.append(dict(text=panel_titles[c], x=px_x(x1), y=px_y(25), xref="paper", yref="paper",
                    xanchor="right", yanchor="bottom", showarrow=False,
                    font=dict(family=FONT, size=17, color="black")))
    ann.append(dict(text="Wavelength (µm)", x=px_x((x0 + x1) / 2), y=px_y(660), xref="paper",
                    yref="paper", xanchor="center", yanchor="middle", showarrow=False,
                    font=dict(family=FONT, size=18, color="black")))
for r in range(2):
    y0, y1 = row_px[r]
    ann.append(dict(text="Number of Transits", x=px_x(18), y=px_y((y0 + y1) / 2), xref="paper",
                    yref="paper", xanchor="center", yanchor="middle", textangle=-90,
                    showarrow=False, font=dict(family=FONT, size=18, color="black")))
layout["annotations"] = ann

fig.update_layout(**layout)
fig.write_html("out.html")
